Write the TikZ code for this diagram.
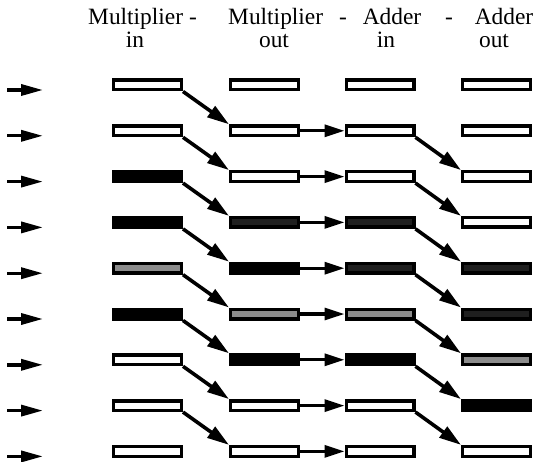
\documentclass[tikz,border=0pt]{standalone}
\usepackage{fontspec}
\setmainfont{Liberation Serif}
\usetikzlibrary{arrows.meta}
\tikzset{
  cell/.style={rectangle, draw=black, line width=3.4bp, minimum width=67.6bp, minimum height=9.6bp, inner sep=0pt},
  wbox/.style={cell, fill=white},
  bbox/.style={cell, fill=black},
  dbox/.style={cell, fill=black!88},
  gbox/.style={cell, fill=black!45},
  conn/.style={line width=3.6bp, -{Triangle[length=22bp,width=13bp]}},
  hconn/.style={line width=3.2bp, -{Triangle[length=20bp,width=12bp]}},
  inconn/.style={line width=3.4bp, -{Triangle[length=22bp,width=11bp]}},
  head/.style={font=\fontsize{23.5}{23.5}\selectfont, inner sep=0pt}
}
\begin{document}
\begin{tikzpicture}[x=1bp,y=-1bp]
\useasboundingbox (0,0) rectangle (537,462);
% headers
\node[head, anchor=base west] (h1) at (88,25) {Multiplier -};
\node[head, anchor=base] (h1b) at (135,48) {in};
\node[head, anchor=base west] (h2) at (228,25) {Multiplier};
\node[head, anchor=base] (h2b) at (274,48) {out};
\node[head, anchor=base] (d1) at (343,25) {-};
\node[head, anchor=base] (h3) at (392,25) {Adder};
\node[head, anchor=base] (h3b) at (386,48) {in};
\node[head, anchor=base] (d2) at (449,25) {-};
\node[head, anchor=base] (h4) at (504,25) {Adder};
\node[head, anchor=base] (h4b) at (494,48) {out};
% boxes
\foreach \r/\a/\b/\c/\d in {1/wbox/wbox/wbox/wbox, 2/wbox/wbox/wbox/wbox, 3/bbox/wbox/wbox/wbox, 4/bbox/dbox/dbox/wbox, 5/gbox/bbox/dbox/dbox, 6/bbox/gbox/gbox/dbox, 7/wbox/bbox/bbox/gbox, 8/wbox/wbox/wbox/bbox, 9/wbox/wbox/wbox/wbox}{
  \pgfmathsetmacro{\yy}{85+45.8*(\r-1)}
  \pgfmathsetmacro{\ya}{\yy+5}
  \node[\a] (b\r-1) at (147.5,\yy) {};
  \node[\b] (b\r-2) at (264.5,\yy) {};
  \node[\c] (b\r-3) at (380,\yy) {};
  \node[\d] (b\r-4) at (496.5,\yy) {};
  \coordinate (s\r) at (7,\ya);
  \coordinate (e\r) at (43,\ya);
  \draw[inconn] (s\r) -- (e\r);
}
% connectors
\foreach \r [evaluate=\r as \n using int(\r+1)] in {1,...,8}{
  \draw[conn] (b\r-1.south east) -- (b\n-2.north west);
}
\foreach \r in {2,...,9}{
  \draw[hconn] (b\r-2.east) -- (b\r-3.west);
}
\foreach \r [evaluate=\r as \n using int(\r+1)] in {2,...,8}{
  \draw[conn] (b\r-3.south east) -- (b\n-4.north west);
}
\end{tikzpicture}
\end{document}
